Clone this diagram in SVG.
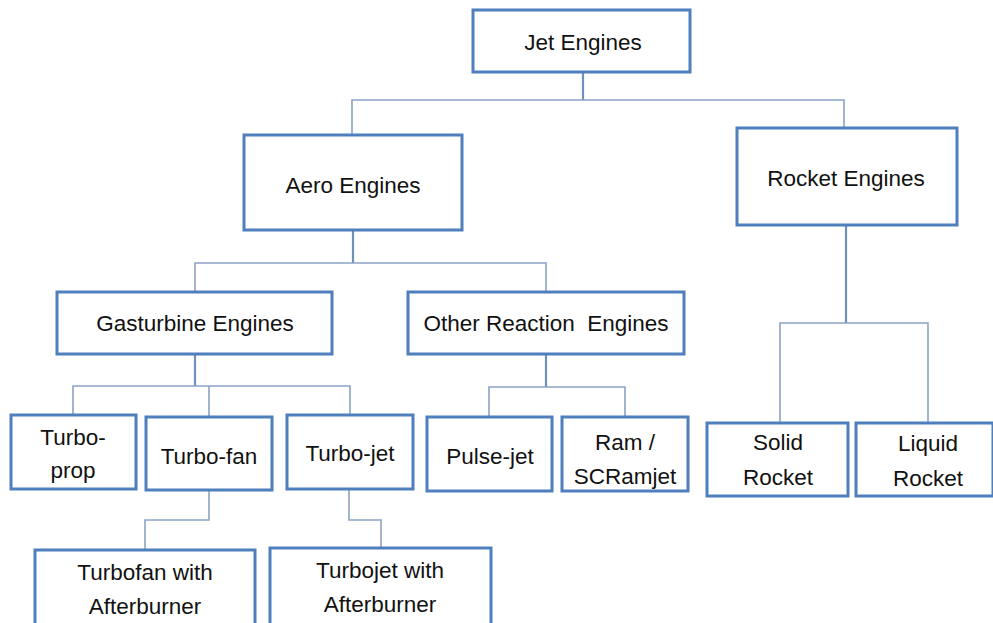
<svg xmlns="http://www.w3.org/2000/svg" width="993" height="623" viewBox="0 0 993 623">
<style>
.box{fill:#fff;stroke:#4f7fbc;stroke-width:3}
.t{font-family:"Liberation Sans",Arial,sans-serif;font-size:22.5px;fill:#111;text-anchor:middle;white-space:pre}
.c{fill:none;stroke:#8aa3c6;stroke-width:1.6}
.p{fill:none;stroke:#6f8fbd;stroke-width:2.2}
</style>
<rect width="993" height="623" fill="#fff"/>
<g id="connectors">
<path class="p" d="M583 72V100"/>
<path class="c" d="M352 135V100H844V128"/>
<path class="p" d="M353 230V263"/>
<path class="c" d="M195 292V263H546V292"/>
<path class="p" d="M195 354V386"/>
<path class="c" d="M73 415V386H350V415M209 386V417"/>
<path class="p" d="M546 354V387"/>
<path class="c" d="M489 417V387H625V417"/>
<path class="p" d="M846 225V323"/>
<path class="c" d="M780 423V323H928V423"/>
<path class="c" d="M209 490V520H145V550"/>
<path class="c" d="M349 489V520H381V548"/>
</g>
<g id="jet"><rect class="box" x="473" y="10" width="217" height="62"/><text class="t" x="583" y="50">Jet Engines</text></g>
<g id="aero"><rect class="box" x="244" y="135" width="218" height="95"/><text class="t" x="353" y="193">Aero Engines</text></g>
<g id="rocket"><rect class="box" x="737" y="128" width="220" height="97"/><text class="t" x="846" y="186">Rocket Engines</text></g>
<g id="gasturbine"><rect class="box" x="57" y="292" width="275" height="62"/><text class="t" x="195" y="331">Gasturbine Engines</text></g>
<g id="other"><rect class="box" x="408" y="292" width="276" height="62"/><text class="t" x="546" y="331" xml:space="preserve">Other Reaction  Engines</text></g>
<g id="turboprop"><rect class="box" x="11" y="415" width="125" height="74"/><text class="t" x="73" y="445">Turbo-</text><text class="t" x="73" y="478">prop</text></g>
<g id="turbofan"><rect class="box" x="146" y="417" width="126" height="73"/><text class="t" x="209" y="464">Turbo-fan</text></g>
<g id="turbojet"><rect class="box" x="287" y="415" width="126" height="74"/><text class="t" x="350" y="461">Turbo-jet</text></g>
<g id="pulsejet"><rect class="box" x="427" y="417" width="125" height="74"/><text class="t" x="490" y="464">Pulse-jet</text></g>
<g id="ramjet"><rect class="box" x="562" y="417" width="126" height="74"/><text class="t" x="625" y="450">Ram /</text><text class="t" x="625" y="484">SCRamjet</text></g>
<g id="solid"><rect class="box" x="707" y="423" width="141" height="73"/><text class="t" x="778" y="450">Solid</text><text class="t" x="778" y="485">Rocket</text></g>
<g id="liquid"><rect class="box" x="856" y="423" width="137" height="73"/><text class="t" x="928" y="451">Liquid</text><text class="t" x="928" y="486">Rocket</text></g>
<g id="turbofan-ab"><rect class="box" x="35" y="550" width="220" height="75"/><text class="t" x="145" y="580">Turbofan with</text><text class="t" x="145" y="614">Afterburner</text></g>
<g id="turbojet-ab"><rect class="box" x="270" y="548" width="221" height="77"/><text class="t" x="380" y="578">Turbojet with</text><text class="t" x="380" y="612">Afterburner</text></g>
</svg>
